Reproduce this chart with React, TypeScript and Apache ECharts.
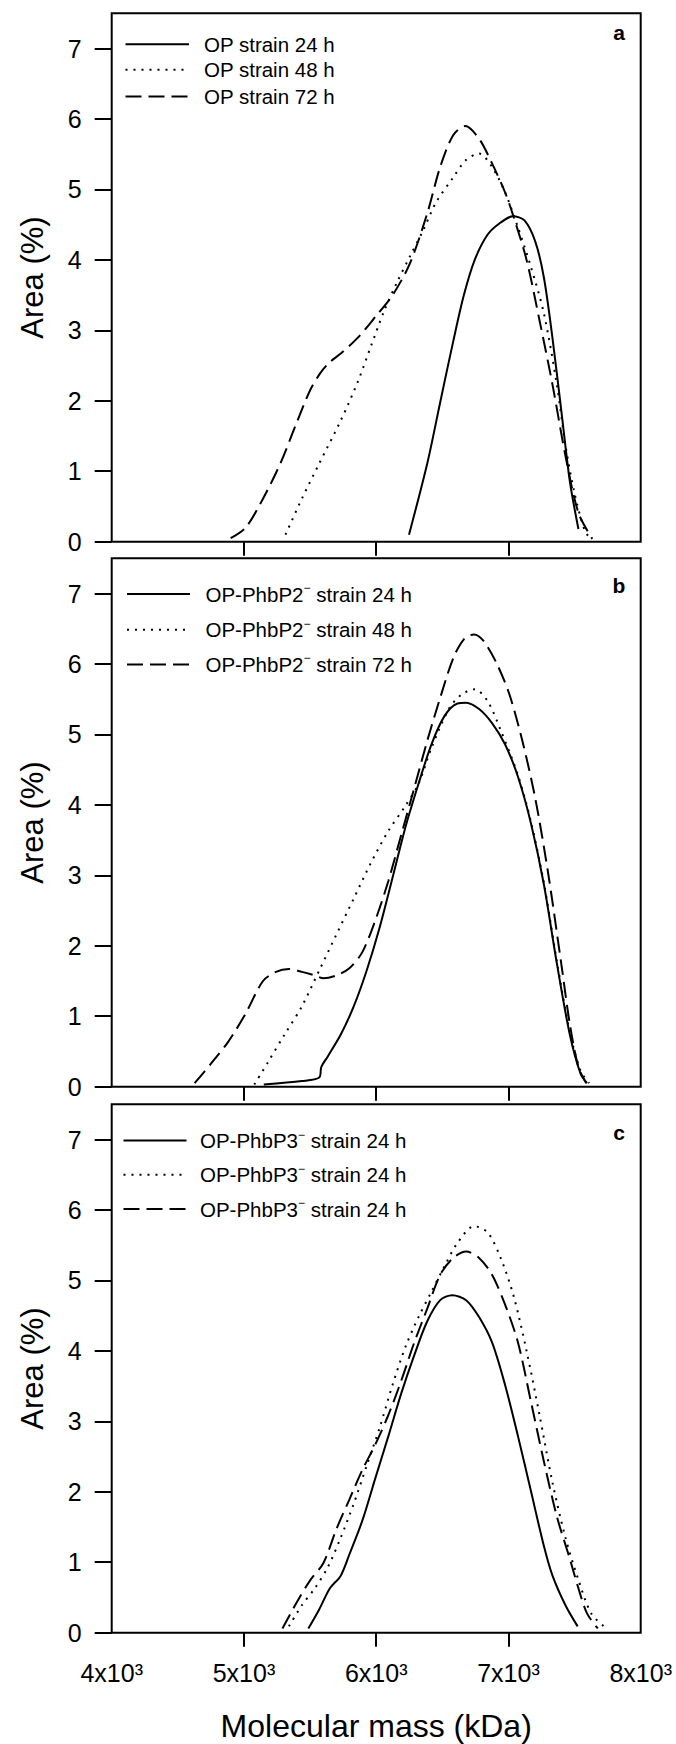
import React, { useEffect, useRef } from 'react';
import * as echarts from 'echarts';

const FONT = '"Liberation Sans", Arial, Helvetica, sans-serif';

// ---------- tick labels ----------
const X_TICK_LABELS = [4000, 5000, 6000, 7000, 8000];
const X_TICK_MARKS = [5000, 6000, 7000];
const Y_TICKS = [0, 1, 2, 3, 4, 5, 6, 7];

// ---------- panel a ----------
const A_LABELS = ['OP strain 24 h', 'OP strain 48 h', 'OP strain 72 h'];
const A_24 = [[6248, 0.1], [6386, 1.11], [6484, 1.98], [6582, 2.84], [6663, 3.5], [6745, 4.0], [6843, 4.36], [6941, 4.53], [7033, 4.62], [7121, 4.56], [7203, 4.26], [7268, 3.75], [7333, 2.89], [7399, 1.87], [7464, 0.86], [7529, 0.18]];
const A_48 = [[5314, 0.1], [5438, 0.61], [5569, 1.11], [5732, 1.72], [5863, 2.28], [5961, 2.78], [6059, 3.27], [6157, 3.68], [6255, 4.05], [6353, 4.41], [6451, 4.81], [6582, 5.17], [6680, 5.42], [6778, 5.51], [6876, 5.32], [6974, 4.96], [7072, 4.46], [7170, 3.9], [7268, 3.24], [7366, 2.23], [7431, 1.37], [7497, 0.71], [7578, 0.15], [7620, 0.05]];
const A_72 = [[4899, 0.05], [5013, 0.2], [5144, 0.61], [5275, 1.11], [5405, 1.72], [5503, 2.16], [5580, 2.4], [5650, 2.55], [5732, 2.67], [5863, 2.9], [5993, 3.19], [6124, 3.5], [6255, 3.95], [6386, 4.66], [6484, 5.32], [6582, 5.77], [6673, 5.9], [6778, 5.72], [6876, 5.37], [6974, 4.96], [7039, 4.61], [7137, 4.0], [7235, 3.14], [7333, 2.23], [7431, 1.22], [7529, 0.41], [7634, 0.04]];

// ---------- panel b ----------
const B_LABELS = ['OP-PhbP2|strain 24 h', 'OP-PhbP2|strain 48 h', 'OP-PhbP2|strain 72 h'];
const B_24 = [[5150, 0.03], [5438, 0.08], [5569, 0.13], [5585, 0.28], [5634, 0.43], [5732, 0.74], [5830, 1.14], [5928, 1.65], [6026, 2.26], [6124, 2.97], [6222, 3.69], [6320, 4.3], [6418, 4.86], [6516, 5.26], [6614, 5.44], [6680, 5.45], [6778, 5.36], [6876, 5.16], [6974, 4.86], [7072, 4.4], [7170, 3.74], [7268, 2.87], [7366, 1.75], [7464, 0.74], [7546, 0.18], [7595, 0.05]];
const B_48 = [[5078, 0.03], [5176, 0.33], [5307, 0.74], [5438, 1.14], [5569, 1.65], [5699, 2.16], [5830, 2.67], [5961, 3.18], [6092, 3.63], [6222, 3.99], [6320, 4.3], [6418, 4.81], [6549, 5.36], [6647, 5.57], [6745, 5.64], [6843, 5.47], [6941, 5.06], [7072, 4.42], [7170, 3.76], [7268, 2.89], [7366, 1.78], [7464, 0.78], [7546, 0.22], [7611, 0.05]];
const B_72 = [[4627, 0.05], [4752, 0.33], [4882, 0.64], [5013, 1.04], [5144, 1.5], [5242, 1.63], [5340, 1.67], [5438, 1.63], [5536, 1.58], [5601, 1.54], [5699, 1.58], [5797, 1.68], [5895, 1.91], [5993, 2.36], [6092, 2.92], [6190, 3.58], [6288, 4.24], [6386, 4.91], [6484, 5.52], [6582, 6.08], [6663, 6.35], [6739, 6.42], [6810, 6.33], [6908, 6.02], [7007, 5.57], [7105, 4.91], [7203, 4.09], [7301, 3.02], [7399, 1.75], [7464, 0.89], [7529, 0.28], [7588, 0.05]];

// ---------- panel c ----------
const C_LABELS = ['OP-PhbP3|strain 24 h', 'OP-PhbP3|strain 24 h', 'OP-PhbP3|strain 24 h'];
const C_24 = [[5487, 0.06], [5569, 0.33], [5650, 0.63], [5732, 0.81], [5797, 1.11], [5895, 1.59], [5993, 2.19], [6092, 2.79], [6190, 3.4], [6288, 3.94], [6386, 4.42], [6484, 4.72], [6575, 4.79], [6680, 4.72], [6778, 4.48], [6876, 4.12], [6974, 3.52], [7072, 2.79], [7170, 2.01], [7268, 1.23], [7333, 0.81], [7431, 0.39], [7523, 0.09]];
const C_48 = [[5340, 0.09], [5438, 0.39], [5536, 0.63], [5634, 0.93], [5732, 1.35], [5830, 1.83], [5928, 2.37], [6026, 2.91], [6124, 3.52], [6222, 4.06], [6320, 4.48], [6418, 4.84], [6516, 5.2], [6614, 5.53], [6740, 5.77], [6843, 5.68], [6941, 5.32], [7039, 4.78], [7137, 4.0], [7235, 3.09], [7333, 2.13], [7431, 1.35], [7529, 0.75], [7627, 0.27], [7742, 0.06]];
const C_72 = [[5291, 0.06], [5405, 0.45], [5503, 0.75], [5601, 0.99], [5699, 1.47], [5797, 1.89], [5895, 2.31], [5993, 2.67], [6092, 3.09], [6190, 3.58], [6288, 4.12], [6386, 4.6], [6484, 5.08], [6582, 5.32], [6680, 5.41], [6778, 5.32], [6876, 5.08], [6974, 4.66], [7072, 4.12], [7170, 3.28], [7268, 2.43], [7366, 1.65], [7464, 1.05], [7529, 0.63], [7595, 0.27], [7676, 0.06]];

const PANEL_LETTERS = ['a', 'b', 'c'];

// ---------- layout ----------
const GRID_LEFT = 111.7;
const GRID_WIDTH = 529;
const GRID_HEIGHT = 528.4;
const GRID_TOPS = [13.3, 558.3, 1104.3];
const LEGEND_ROWS = [[44.2, 69.8, 96.6], [594, 629.7, 664.4], [1140.6, 1174.8, 1209]];
const LEGEND_LINE_X = [[125.5, 189], [127, 190], [123.5, 186.5]];
const LEGEND_TEXT_X = [204, 205.5, 200];
const LETTER_Y = [32.5, 585, 1132];

const DOT = [2, 6];
const DASH = [16, 7];
const STYLES: any[] = ['solid', DOT, DASH];

const PANELS = [
  { labels: A_LABELS, data: [A_24, A_48, A_72] },
  { labels: B_LABELS, data: [B_24, B_48, B_72] },
  { labels: C_LABELS, data: [C_24, C_48, C_72] },
];

function legendText(label: string) {
  if (label.indexOf('|') < 0) return { text: label, rich: undefined };
  const [pre, post] = label.split('|');
  return {
    text: `{t|${pre}}{s|\u2212}{t| ${post}}`,
    rich: {
      t: { fontSize: 20.5, fontFamily: FONT, fill: '#000', lineHeight: 24 },
      s: { fontSize: 12, fontFamily: FONT, fill: '#000', lineHeight: 9, verticalAlign: 'top' },
    },
  };
}

function buildOption() {
  const grid: any[] = [];
  const xAxis: any[] = [];
  const yAxis: any[] = [];
  const series: any[] = [];
  const graphic: any[] = [];

  PANELS.forEach((p, i) => {
    grid.push({
      left: GRID_LEFT,
      top: GRID_TOPS[i],
      width: GRID_WIDTH,
      height: GRID_HEIGHT,
      show: true,
      borderColor: '#000',
      borderWidth: 2,
      backgroundColor: 'transparent',
      containLabel: false,
    });
    const last = i === PANELS.length - 1;
    xAxis.push({
      type: 'value',
      gridIndex: i,
      min: 4000,
      max: 8000,
      axisLine: { show: false },
      splitLine: { show: false },
      axisTick: {
        show: true,
        length: 14,
        customValues: X_TICK_MARKS,
        lineStyle: { color: '#000', width: 2 },
      },
      axisLabel: {
        show: last,
        customValues: X_TICK_LABELS,
        formatter: (v: number) => `${v / 1000}x10\u00B3`,
        fontSize: 25,
        fontFamily: FONT,
        color: '#000',
        margin: 28,
      },
      name: last ? 'Molecular mass (kDa)' : '',
      nameLocation: 'middle',
      nameGap: 77,
      nameTextStyle: { fontSize: 32, fontFamily: FONT, color: '#000' },
    });
    yAxis.push({
      type: 'value',
      gridIndex: i,
      min: 0,
      max: 7.5,
      axisLine: { show: false },
      splitLine: { show: false },
      axisTick: {
        show: true,
        length: 17,
        customValues: Y_TICKS,
        lineStyle: { color: '#000', width: 2 },
      },
      axisLabel: {
        customValues: Y_TICKS,
        fontSize: 25,
        fontFamily: FONT,
        color: '#000',
        margin: 30,
      },
      name: 'Area (%)',
      nameLocation: 'middle',
      nameGap: 64,
      nameTextStyle: { fontSize: 31, fontFamily: FONT, color: '#000' },
    });
    p.data.forEach((d, k) => {
      series.push({
        type: 'line',
        name: p.labels[k].replace('|', '\u207B '),
        xAxisIndex: i,
        yAxisIndex: i,
        data: d,
        symbol: 'none',
        showSymbol: false,
        smooth: 0.3,
        lineStyle: { color: '#000', width: 2, type: STYLES[k], cap: 'butt' },
      });
      const y = LEGEND_ROWS[i][k];
      graphic.push({
        type: 'line',
        shape: { x1: LEGEND_LINE_X[i][0], y1: y, x2: LEGEND_LINE_X[i][1], y2: y },
        style: {
          stroke: '#000',
          lineWidth: 2,
          lineDash: k === 0 ? null : k === 1 ? DOT : DASH,
        },
      });
      const lt = legendText(p.labels[k]);
      graphic.push({
        type: 'text',
        x: LEGEND_TEXT_X[i],
        y,
        style: {
          text: lt.text,
          rich: lt.rich,
          fontSize: 20.5,
          fontFamily: FONT,
          fill: '#000',
          align: 'left',
          verticalAlign: 'middle',
        },
      });
    });
    graphic.push({
      type: 'text',
      x: 619,
      y: LETTER_Y[i],
      style: {
        text: PANEL_LETTERS[i],
        fontSize: 21,
        fontWeight: 'bold',
        fontFamily: FONT,
        fill: '#000',
        align: 'center',
        verticalAlign: 'middle',
      },
    });
  });

  return {
    animation: false,
    backgroundColor: '#fff',
    grid,
    xAxis,
    yAxis,
    series,
    graphic,
  };
}

export default function App() {
  const ref = useRef<HTMLDivElement>(null);
  useEffect(() => {
    document.body.style.margin = '0';
    const chart = echarts.init(ref.current!, null, { renderer: 'svg' });
    chart.setOption(buildOption() as any);
    return () => chart.dispose();
  }, []);
  return <div ref={ref} style={{ width: 676, height: 1744 }} />;
}
